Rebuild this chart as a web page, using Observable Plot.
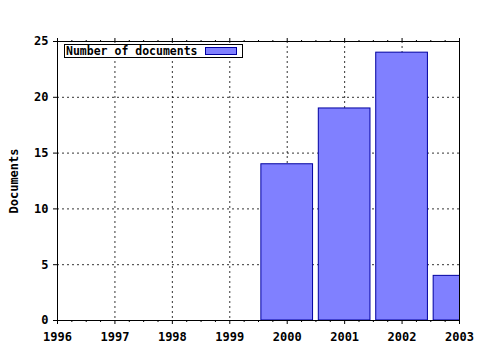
<!DOCTYPE html>
<html>
<head>
<meta charset="utf-8">
<script src="https://cdn.jsdelivr.net/npm/d3@7"></script>
<script src="https://cdn.jsdelivr.net/npm/@observablehq/plot@0.6"></script>
<style>
  html, body { margin: 0; padding: 0; background: #fff; }
  #wrap { position: relative; width: 480px; height: 350px; }
  #legend {
    position: absolute; left: 64px; top: 44px; width: 177px; height: 12px;
    border: 1px solid #000; background: #fff;
    font: bold 11.5px "DejaVu Sans Mono", monospace; line-height: 12px;
  }
  #legend span.t { position: absolute; left: 1px; top: 0px; }
  #legend span.s { position: absolute; left: 140px; top: 2px; width: 30px; height: 6px;
    background: #8080ff; border: 1px solid #0000a0; }
</style>
</head>
<body>
<div id="wrap"></div>
<script>
const years = [2000, 2001, 2002, 2003];
const counts = [14, 19, 24, 4];
const xTicks = [1996, 1997, 1998, 1999, 2000, 2001, 2002, 2003];
const yTicks = [0, 5, 10, 15, 20, 25];
const seriesName = "Number of documents";
const yLabel = "Documents";

const data = years.map((y, i) => ({year: y, count: counts[i]}));
const half = 0.45;
const minorX = d3.range(1996, 2003.001, 0.25).filter(v => !xTicks.includes(v));

const font = 'bold 12px "DejaVu Sans Mono", monospace';

const chart = Plot.plot({
  width: 480,
  height: 350,
  marginLeft: 57,
  marginRight: 21,
  marginTop: 41,
  marginBottom: 30,
  style: {font: font, color: "#000", background: "#fff"},
  x: {domain: [1996, 2003]},
  y: {domain: [0, 25]},
  marks: [
    Plot.gridX(xTicks.slice(1, -1), {stroke: "#000", strokeOpacity: 0.8, strokeDasharray: "2,3"}),
    Plot.gridY(yTicks.slice(1, -1), {stroke: "#000", strokeOpacity: 0.8, strokeDasharray: "2,3"}),
    Plot.rectY(data, {x1: d => d.year - half, x2: d => d.year + half, y: "count",
      fill: "#8080ff", stroke: "#0000a0", strokeWidth: 1, clip: true}),
    Plot.frame({stroke: "#000", strokeWidth: 1}),
    Plot.axisX(xTicks, {anchor: "bottom", tickSize: 4, tickPadding: 8, tickFormat: d => String(d), label: null, fontWeight: "bold"}),
    Plot.axisX(minorX, {anchor: "bottom", tickSize: 2, text: null, label: null}),
    Plot.axisX(xTicks, {anchor: "top", tickSize: 4, text: null, label: null}),
    Plot.axisX(minorX, {anchor: "top", tickSize: 2, text: null, label: null}),
    Plot.axisY(yTicks, {anchor: "left", tickSize: 4, tickPadding: 5, label: yLabel, labelAnchor: "center", labelArrow: "none", labelOffset: 48, fontWeight: "bold"})
  ]
});

const wrap = document.getElementById("wrap");
wrap.appendChild(chart);
const leg = document.createElement("div");
leg.id = "legend";
leg.innerHTML = '<span class="t"></span><span class="s"></span>';
leg.querySelector(".t").textContent = seriesName;
wrap.appendChild(leg);
</script>
</body>
</html>
